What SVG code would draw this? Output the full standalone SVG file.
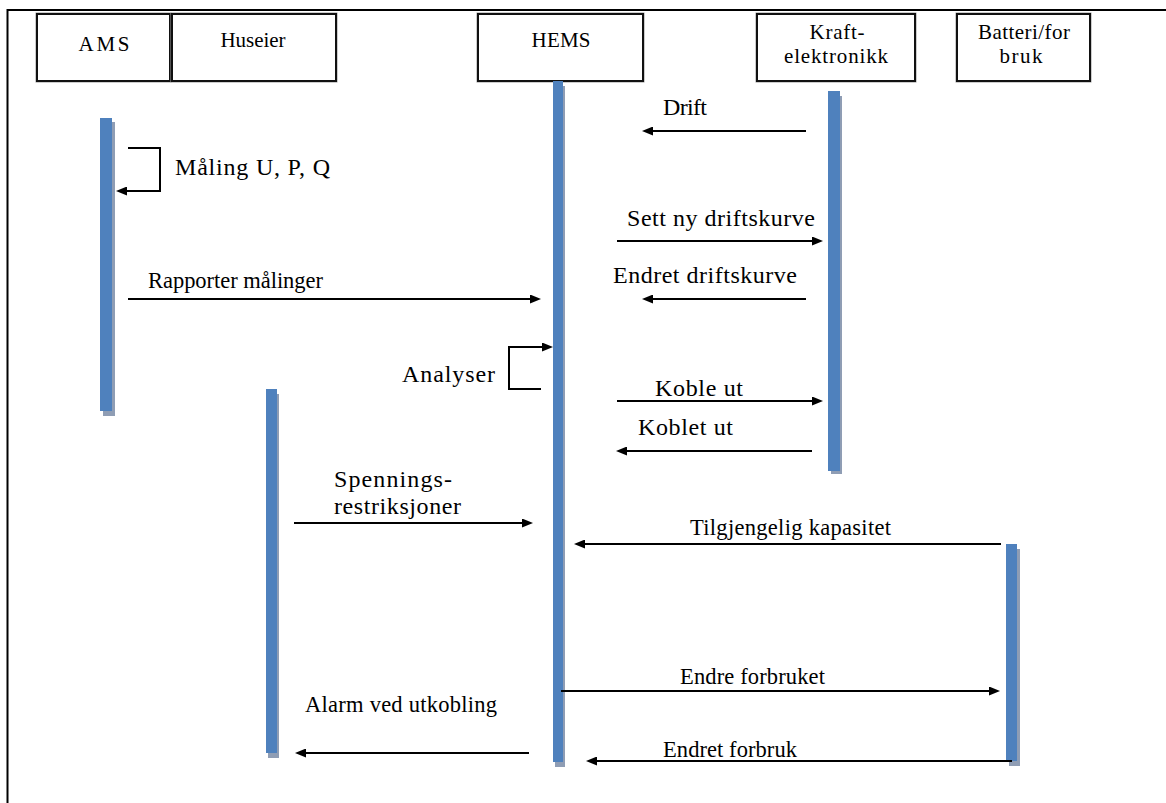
<svg xmlns="http://www.w3.org/2000/svg" width="1166" height="803" viewBox="0 0 1166 803">
  <style>
    .frame { stroke: #000; stroke-width: 2; fill: none; }
    .box { fill: #fff; stroke: #111; stroke-width: 2; }
    .boxedge { fill: none; stroke: #9a9a9a; stroke-width: 1; }
    text { font-family: 'Liberation Serif', 'DejaVu Serif', serif; fill: #000; }
    .head { font-size: 21px; text-anchor: middle; }
    .lbl { font-size: 24px; }
    .sm { font-size: 22.5px; }
    .bar { fill: #4F81BD; }
    .shadow { fill: #8F9DB4; }
    .msg { stroke: #000; stroke-width: 2; fill: none; marker-end: url(#arr); }
  </style>
  <defs>
    <marker id="arr" markerUnits="userSpaceOnUse" markerWidth="11" markerHeight="9" refX="4" refY="4.5" orient="auto">
      <path d="M0,0 L11,4.5 L0,9 z" fill="#000"/>
    </marker>
  </defs>

  <rect width="1166" height="803" fill="#fff"/>
  <!-- outer frame -->
  <path class="frame" d="M7.5,803 V10 H1166"/>

  <!-- lifeline heads with their activation bars -->
  <g id="ams">
    <rect class="boxedge" x="36" y="13" width="135" height="69"/>
    <rect class="box" x="37" y="14" width="133" height="67"/>
    <text class="head" x="104" y="51" font-size="22" textLength="51">AMS</text>
    <rect class="shadow" x="103" y="122" width="12" height="294"/>
    <rect class="bar" x="100" y="118" width="12" height="293"/>
  </g>
  <g id="huseier">
    <rect class="boxedge" x="171" y="13" width="166" height="69"/>
    <rect class="box" x="172" y="14" width="164" height="67"/>
    <text class="head" x="253" y="47" font-size="20" textLength="65">Huseier</text>
    <rect class="shadow" x="268" y="394" width="11" height="364"/>
    <rect class="bar" x="266" y="389" width="11" height="364"/>
  </g>
  <g id="hems">
    <rect class="boxedge" x="477" y="13" width="167" height="69"/>
    <rect class="box" x="478" y="14" width="165" height="67"/>
    <text class="head" x="561" y="47" textLength="59">HEMS</text>
    <rect class="shadow" x="555" y="86" width="10" height="681"/>
    <rect class="bar" x="553" y="81" width="10" height="681"/>
  </g>
  <g id="kraftelektronikk">
    <rect class="boxedge" x="756" y="13" width="160" height="69"/>
    <rect class="box" x="757" y="14" width="158" height="67"/>
    <text class="head" x="837" y="39" font-size="22" textLength="55">Kraft-</text>
    <text class="head" x="836" y="63" font-size="22" textLength="104">elektronikk</text>
    <rect class="shadow" x="831" y="96" width="11" height="378"/>
    <rect class="bar" x="828" y="91" width="12" height="380"/>
  </g>
  <g id="batteri">
    <rect class="boxedge" x="956" y="13" width="135" height="69"/>
    <rect class="box" x="957" y="14" width="133" height="67"/>
    <text class="head" x="1024" y="39" font-size="22" textLength="92">Batteri/for</text>
    <text class="head" x="1021" y="63" font-size="22" textLength="43">bruk</text>
    <rect class="shadow" x="1009" y="549" width="11" height="217"/>
    <rect class="bar" x="1006" y="544" width="11" height="217"/>
  </g>

  <!-- messages -->
  <g id="connectors">
    <path class="msg" d="M128,148 H160 V191 H123"/>
    <path class="msg" d="M806,131 H649"/>
    <path class="msg" d="M617,241 H816"/>
    <path class="msg" d="M128,299 H534"/>
    <path class="msg" d="M806,299 H649"/>
    <path class="msg" d="M541,389 H509 V347 H546"/>
    <path class="msg" d="M617,401 H816"/>
    <path class="msg" d="M812,451 H623"/>
    <path class="msg" d="M294,523 H526"/>
    <path class="msg" d="M1001,544 H581"/>
    <path class="msg" d="M561,691 H993"/>
    <path class="msg" d="M529,753 H302"/>
    <path class="msg" d="M1012,761 H593"/>
  </g>

  <!-- message labels -->
  <g id="labels">
    <text class="lbl" x="663" y="115" textLength="44">Drift</text>
    <text class="lbl" x="175" y="175" textLength="155">Måling U, P, Q</text>
    <text class="lbl" x="627" y="226" textLength="188">Sett ny driftskurve</text>
    <text class="lbl sm" x="148" y="288" textLength="175">Rapporter målinger</text>
    <text class="lbl" x="613" y="283" textLength="184">Endret driftskurve</text>
    <text class="lbl" x="402" y="382" textLength="93">Analyser</text>
    <text class="lbl" x="655" y="396" textLength="88">Koble ut</text>
    <text class="lbl" x="638" y="435" textLength="95">Koblet ut</text>
    <text class="lbl" x="334" y="487" textLength="118">Spennings-</text>
    <text class="lbl" x="334" y="514" textLength="127">restriksjoner</text>
    <text class="lbl sm" x="690" y="535" textLength="201">Tilgjengelig  kapasitet</text>
    <text class="lbl sm" x="680" y="684" textLength="145">Endre forbruket</text>
    <text class="lbl sm" x="305" y="712" textLength="192">Alarm ved utkobling</text>
    <text class="lbl sm" x="663" y="757" textLength="134">Endret forbruk</text>
  </g>
</svg>
